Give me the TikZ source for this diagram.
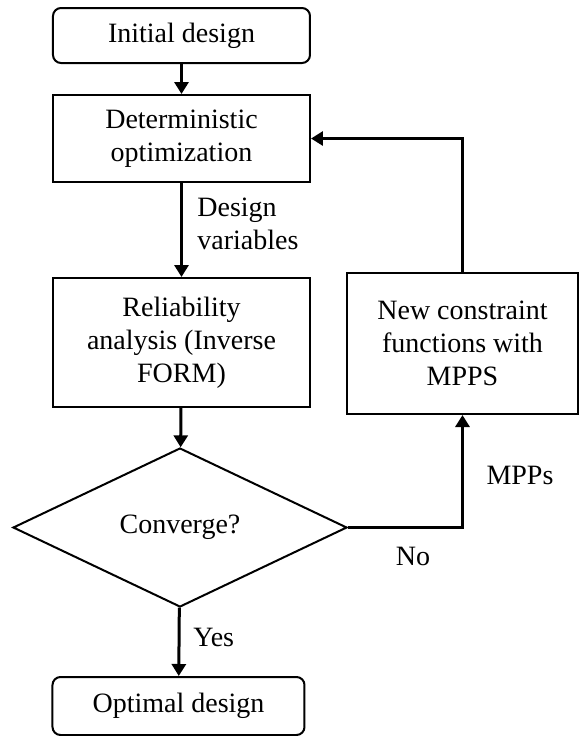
\documentclass[tikz,border=0pt]{standalone}
\usepackage{fontspec}
\setmainfont{Liberation Serif}
\usepackage{tikz}
\usetikzlibrary{arrows.meta, positioning, shapes.geometric}

\tikzset{
    box/.style={draw, line width=1pt, align=center, inner sep=2pt},
    endbox/.style={box, rounded corners=4pt},
    decision/.style={draw, line width=1pt, diamond, aspect=2.1, inner sep=0pt},
    flow/.style={line width=1.5pt, -{Triangle[length=6pt,width=7pt]}},
    lbl/.style={inner sep=0pt, align=left}
}

\begin{document}
\begin{tikzpicture}[x=0.5pt, y=-0.5pt, font=\fontsize{14}{16.5}\selectfont]
    \useasboundingbox (0,0) rectangle (579,736);

    % Main column
    \node[endbox, minimum width=128.5pt, minimum height=27.5pt] (init) at (181.5, 35.5) {Initial design};
    \node[box, minimum width=128.5pt, minimum height=43.5pt] (det) at (181.5, 138.5) {Deterministic\\optimization};
    \node[box, minimum width=128.5pt, minimum height=64.5pt] (rel) at (181.5, 342.5) {Reliability\\analysis (Inverse\\FORM)};
    \node[decision, minimum width=167pt, minimum height=79.5pt] (conv) at (180, 527.5) {Converge?};
    \node[endbox, minimum width=126pt, minimum height=29pt] (opt) at (178.5, 706) {Optimal design};

    % Update branch
    \node[box, minimum width=115.5pt, minimum height=70.5pt] (newcon) at (462.5, 343.5) {New constraint\\functions with\\MPPS};

    % Connectors
    \draw[flow] (init) -- (det);
    \draw[flow] (det) -- (rel);
    \draw[flow] (rel) -- (conv);
    \draw[flow] (conv) -- (opt);
    \draw[flow] (conv.east) -| (newcon.south);
    \draw[flow] (newcon.north) |- (det.east);

    % Labels
    \node[lbl, anchor=west] (dv) at (197, 224) {Design\\variables};
    \node[lbl, anchor=west] (yes) at (193, 637) {Yes};
    \node[lbl] (mpps) at (520, 475) {MPPs};
    \node[lbl] (no) at (413, 556) {No};
\end{tikzpicture}
\end{document}
